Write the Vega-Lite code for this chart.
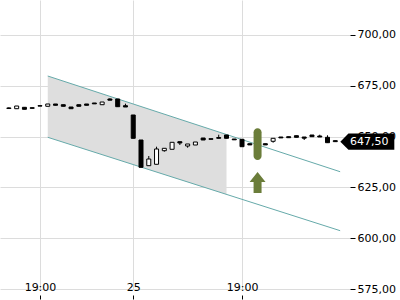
{
  "$schema": "https://vega.github.io/schema/vega-lite/v6.json",
  "width": 350,
  "height": 289,
  "autosize": {"type": "none"},
  "padding": {"left": 0, "top": 0, "right": 50, "bottom": 11},
  "background": "white",
  "config": {
    "view": {"stroke": null},
    "font": "DejaVu Sans",
    "axis": {"labelFont": "DejaVu Sans", "labelFontSize": 11, "labelColor": "#000000", "gridColor": "#dcdcdc", "tickColor": "#000000", "domain": false, "title": null}
  },
  "datasets": {
    "candles": [
      {"k": 0, "o": 664.1, "h": 664.4, "l": 663.6, "c": 663.8},
      {"k": 1, "o": 663.71, "h": 665.04, "l": 663.71, "c": 665.04},
      {"k": 2, "o": 664.4, "h": 664.4, "l": 663.42, "c": 663.42},
      {"k": 3, "o": 664.2, "h": 664.2, "l": 663.9, "c": 663.9},
      {"k": 4, "o": 665.2, "h": 665.2, "l": 665.0, "c": 665.0},
      {"k": 5, "o": 664.9, "h": 666.03, "l": 664.9, "c": 666.03},
      {"k": 6, "o": 666.03, "h": 666.03, "l": 665.39, "c": 665.39},
      {"k": 7, "o": 665.68, "h": 665.68, "l": 664.9, "c": 664.9},
      {"k": 8, "o": 664.55, "h": 664.55, "l": 663.71, "c": 663.71},
      {"k": 9, "o": 665.68, "h": 665.68, "l": 664.9, "c": 664.9},
      {"k": 10, "o": 666.03, "h": 666.03, "l": 665.39, "c": 665.39},
      {"k": 11, "o": 666.52, "h": 666.52, "l": 666.1, "c": 666.1},
      {"k": 12, "o": 665.68, "h": 667.01, "l": 665.68, "c": 667.01},
      {"k": 13, "o": 668.49, "h": 668.83, "l": 667.9, "c": 667.9},
      {"k": 14, "o": 668.49, "h": 668.49, "l": 664.7, "c": 664.7},
      {"k": 15, "o": 665.19, "h": 666.18, "l": 664.55, "c": 664.55},
      {"k": 16, "o": 660.62, "h": 660.62, "l": 649.15, "c": 649.15},
      {"k": 17, "o": 648.31, "h": 648.31, "l": 634.88, "c": 634.88},
      {"k": 18, "o": 635.67, "h": 640.44, "l": 635.67, "c": 638.96},
      {"k": 19, "o": 636.36, "h": 645.02, "l": 636.36, "c": 643.89},
      {"k": 20, "o": 643.05, "h": 644.23, "l": 642.56, "c": 644.23},
      {"k": 21, "o": 643.74, "h": 647.18, "l": 643.74, "c": 647.18},
      {"k": 22, "o": 647.48, "h": 647.48, "l": 645.85, "c": 646.84},
      {"k": 23, "o": 645.36, "h": 646.35, "l": 644.52, "c": 646.35},
      {"k": 24, "o": 645.85, "h": 647.33, "l": 645.85, "c": 647.33},
      {"k": 25, "o": 649.3, "h": 649.3, "l": 648.31, "c": 648.31},
      {"k": 26, "o": 648.95, "h": 648.95, "l": 648.66, "c": 648.66},
      {"k": 27, "o": 649.54, "h": 650.92, "l": 649.15, "c": 649.15},
      {"k": 28, "o": 650.77, "h": 650.77, "l": 649.15, "c": 649.15},
      {"k": 29, "o": 648.81, "h": 648.81, "l": 648.4, "c": 648.4},
      {"k": 30, "o": 648.66, "h": 648.66, "l": 645.02, "c": 645.02},
      {"k": 31, "o": 646.49, "h": 646.49, "l": 645.9, "c": 645.9},
      {"k": 32, "o": 646.35, "h": 646.35, "l": 645.85, "c": 645.85},
      {"k": 33, "o": 646.49, "h": 646.49, "l": 645.9, "c": 645.9},
      {"k": 34, "o": 647.67, "h": 649.15, "l": 646.99, "c": 649.15},
      {"k": 35, "o": 649.79, "h": 649.79, "l": 649.35, "c": 649.35},
      {"k": 36, "o": 649.94, "h": 649.94, "l": 649.45, "c": 649.45},
      {"k": 37, "o": 650.43, "h": 650.43, "l": 649.64, "c": 649.64},
      {"k": 38, "o": 649.79, "h": 649.79, "l": 648.31, "c": 649.2},
      {"k": 39, "o": 650.77, "h": 650.77, "l": 649.94, "c": 649.94},
      {"k": 40, "o": 650.28, "h": 650.92, "l": 649.79, "c": 649.79},
      {"k": 41, "o": 649.64, "h": 650.63, "l": 646.99, "c": 646.99},
      {"k": 42, "o": 647.99, "h": 647.99, "l": 647.5, "c": 647.5}
    ],
    "band": [
      {"k": 5, "upper": 679.8, "lower": 649.65},
      {"k": 28, "upper": 651.0, "lower": 621.5}
    ],
    "channel": [
      {"k": 5, "v": 679.8, "s": "upper"},
      {"k": 42.625, "v": 632.7, "s": "upper"},
      {"k": 5, "v": 649.65, "s": "lower"},
      {"k": 42.625, "v": 603.7, "s": "lower"}
    ],
    "signal": [
      {"k": 32, "top": 654.1, "bottom": 638.5, "arrow": 627.4}
    ],
    "last": [
      {"k": 46.125, "v": 647.5, "label": "647,50"}
    ]
  },
  "encoding": {
    "x": {
      "field": "k",
      "type": "quantitative",
      "scale": {"domain": [-0.5, 43.25], "nice": false, "zero": false},
      "axis": {
        "orient": "bottom",
        "values": [4, 16, 30],
        "grid": true,
        "tickSize": 4,
        "offset": 6,
        "labelPadding": -12,
        "labelBaseline": "middle",
        "labelExpr": "datum.value == 16 ? '25' : '19:00'"
      }
    }
  },
  "layer": [
    {
      "data": {"name": "band"},
      "mark": {"type": "area", "color": "#dedede", "opacity": 1},
      "encoding": {
        "y": {
          "field": "upper",
          "type": "quantitative",
          "scale": {"domain": [575, 717.2], "nice": false, "zero": false},
          "axis": {
            "orient": "right",
            "values": [575, 600, 625, 650, 675, 700],
            "grid": true,
            "tickSize": 5,
            "labelPadding": 2,
            "labelExpr": "replace(format(datum.value, '.2f'), '.', ',')"
          }
        },
        "y2": {"field": "lower"}
      }
    },
    {
      "data": {"name": "channel"},
      "mark": {"type": "line", "color": "#66aaaa", "strokeWidth": 1},
      "encoding": {
        "y": {"field": "v", "type": "quantitative", "scale": {"domain": [575, 717.2], "nice": false, "zero": false}},
        "detail": {"field": "s"}
      }
    },
    {
      "data": {"name": "candles"},
      "mark": {"type": "rule", "color": "#000000", "strokeWidth": 1},
      "encoding": {
        "y": {"field": "h", "type": "quantitative", "scale": {"domain": [575, 717.2], "nice": false, "zero": false}},
        "y2": {"field": "l"}
      }
    },
    {
      "data": {"name": "candles"},
      "mark": {"type": "bar", "width": 4, "stroke": "#000000", "strokeWidth": 1},
      "encoding": {
        "y": {"field": "o", "type": "quantitative", "scale": {"domain": [575, 717.2], "nice": false, "zero": false}},
        "y2": {"field": "c"},
        "fill": {"condition": {"test": "datum.c > datum.o", "value": "#ffffff"}, "value": "#000000"}
      }
    },
    {
      "data": {"name": "signal"},
      "mark": {"type": "bar", "width": 8, "cornerRadius": 4, "color": "#6b7d3a"},
      "encoding": {
        "y": {"field": "top", "type": "quantitative", "scale": {"domain": [575, 717.2], "nice": false, "zero": false}},
        "y2": {"field": "bottom"}
      }
    },
    {
      "data": {"name": "signal"},
      "mark": {"type": "point", "filled": true, "color": "#6b7d3a", "opacity": 1, "strokeWidth": 0, "size": 441, "shape": "M0,-1L0.76,-0.05L0.38,-0.05L0.38,1L-0.38,1L-0.38,-0.05L-0.76,-0.05Z"},
      "encoding": {
        "y": {"field": "arrow", "type": "quantitative", "scale": {"domain": [575, 717.2], "nice": false, "zero": false}}
      }
    },
    {
      "data": {"name": "last"},
      "mark": {"type": "point", "filled": true, "color": "#000000", "opacity": 1, "strokeWidth": 0, "size": 2916, "shape": "M-1,0L-0.7,-0.3L1,-0.3L1,0.3L-0.7,0.3Z"},
      "encoding": {
        "y": {"field": "v", "type": "quantitative", "scale": {"domain": [575, 717.2], "nice": false, "zero": false}}
      }
    },
    {
      "data": {"name": "last"},
      "mark": {"type": "text", "color": "#ffffff", "font": "DejaVu Sans", "fontSize": 11, "align": "center", "baseline": "middle", "dx": 2},
      "encoding": {
        "y": {"field": "v", "type": "quantitative", "scale": {"domain": [575, 717.2], "nice": false, "zero": false}},
        "text": {"field": "label"}
      }
    }
  ]
}
